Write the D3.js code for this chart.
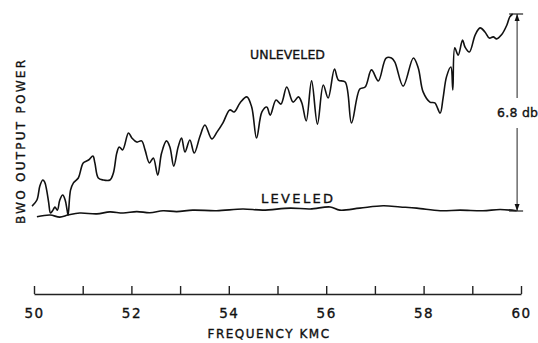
<!DOCTYPE html>
<html lang="en">
<head>
<meta charset="utf-8">
<title>BWO output power</title>
<script src="https://cdn.jsdelivr.net/npm/d3@7"></script>
<style>
  body { margin: 0; background: #fff; }
  text { font-family: "DejaVu Sans", sans-serif; fill: #111; stroke: #111; stroke-width: 0.35px; }
</style>
</head>
<body>
<script>
// unleveled trace (frequency in kmc, relative power in db)
var unlevFreq = [49.96, 50.06, 50.12, 50.18, 50.22, 50.26, 50.30, 50.34, 50.39, 50.43,
  50.48, 50.53, 50.59, 50.64, 50.68, 50.70, 50.75, 50.81, 50.91, 50.97,
  51.01, 51.12, 51.21, 51.25, 51.32, 51.42, 51.56, 51.63, 51.70, 51.75,
  51.82, 51.94, 52.01, 52.11, 52.21, 52.28, 52.37, 52.45, 52.54, 52.62,
  52.72, 52.79, 52.87, 52.96, 53.03, 53.10, 53.20, 53.29, 53.41, 53.51,
  53.65, 53.76, 53.88, 54.02, 54.11, 54.23, 54.37, 54.47, 54.57, 54.68,
  54.78, 54.85, 54.97, 55.07, 55.19, 55.32, 55.43, 55.50, 55.59, 55.70,
  55.82, 55.94, 56.04, 56.17, 56.25, 56.39, 56.52, 56.69, 56.80, 56.93,
  57.07, 57.23, 57.34, 57.41, 57.58, 57.79, 57.89, 57.99, 58.13, 58.23,
  58.34, 58.40, 58.47, 58.56, 58.60, 58.64, 58.71, 58.80, 58.85, 58.94,
  59.06, 59.16, 59.26, 59.35, 59.43, 59.50, 59.60, 59.71, 59.77, 59.83];
var unlevDb = [0.17, 0.38, 0.86, 1.07, 1.00, 0.72, 0.31, -0.07, 0.03, 0.14,
  0.03, 0.38, 0.55, 0.38, 0.03, -0.14, 0.72, 0.97, 1.14, 1.48,
  1.66, 1.76, 1.90, 1.66, 1.14, 1.07, 1.07, 1.31, 2.00, 2.21,
  2.11, 2.69, 2.52, 2.38, 2.42, 2.11, 1.66, 1.83, 1.24, 2.00,
  2.42, 2.21, 1.55, 2.21, 2.52, 2.04, 2.45, 2.00, 2.59, 2.97,
  2.49, 2.73, 3.04, 3.49, 3.42, 3.73, 3.94, 3.59, 2.52, 3.42,
  3.59, 3.31, 3.83, 3.69, 4.28, 3.76, 3.94, 3.73, 3.11, 4.49,
  3.00, 4.35, 3.90, 4.90, 4.52, 4.45, 3.04, 4.21, 4.28, 4.87,
  4.49, 5.28, 5.28, 5.14, 4.31, 5.28, 4.94, 4.11, 3.76, 3.73,
  3.38, 3.90, 4.63, 4.97, 4.18, 5.63, 5.38, 5.90, 5.66, 5.49,
  6.08, 6.32, 6.18, 5.97, 6.01, 5.94, 6.08, 6.42, 6.70, 6.80];

// leveled trace
var levFreq = [50.06, 50.33, 50.53, 50.70, 50.94, 51.29, 51.56, 51.83, 52.11, 52.38,
  52.65, 52.93, 53.26, 53.75, 54.29, 54.70, 55.26, 55.67, 56.08, 56.28,
  56.69, 57.17, 57.52, 57.86, 58.34, 58.75, 59.22, 59.57, 59.91];
var levDb = [-0.20, -0.14, -0.21, -0.14, -0.07, -0.10, -0.03, -0.07, -0.02, -0.06,
  0.01, -0.02, 0.03, 0.01, 0.07, 0.03, 0.10, 0.07, 0.14, 0.03,
  0.10, 0.18, 0.14, 0.10, 0.01, 0.03, 0.01, 0.05, 0.01];

var xTicks = [50, 51, 52, 53, 54, 55, 56, 57, 58, 59, 60];
var xTickLabels = ["50", "", "52", "", "54", "", "56", "", "58", "", "60"];
var spread = 6.8; // db between the two traces at 60 kmc

var w = 538, h = 343;
var svg = d3.select("body").append("svg")
    .attr("width", w)
    .attr("height", h);

var x = d3.scaleLinear().domain([50, 60]).range([34, 521]);
var y = d3.scaleLinear().domain([0, spread]).range([211, 14]);

// x axis, ticks pointing up
var xAxis = d3.axisBottom(x)
    .tickValues(xTicks)
    .tickFormat(function(d, i) { return xTickLabels[i]; })
    .tickSizeInner(-8)
    .tickSizeOuter(0)
    .tickPadding(14);

var gx = svg.append("g")
    .attr("transform", "translate(0,294)")
    .call(xAxis);
gx.select(".domain").attr("stroke", "#222").attr("stroke-width", 1.4);
gx.selectAll(".tick line").attr("stroke", "#222").attr("stroke-width", 1.4);
gx.selectAll(".tick text")
    .attr("font-family", "DejaVu Sans, sans-serif")
    .attr("font-size", "13.5px")
    .attr("letter-spacing", "1.5px")
    .attr("fill", "#111");

var line = d3.line()
    .x(function(d) { return x(d[0]); })
    .y(function(d) { return y(d[1]); })
    .curve(d3.curveCatmullRom.alpha(0.5));

svg.append("path")
    .datum(d3.zip(unlevFreq, unlevDb))
    .attr("fill", "none")
    .attr("stroke", "#111")
    .attr("stroke-width", 1.6)
    .attr("d", line);

svg.append("path")
    .datum(d3.zip(levFreq, levDb))
    .attr("fill", "none")
    .attr("stroke", "#111")
    .attr("stroke-width", 1.6)
    .attr("d", line);

// 6.8 db span marker
var ax = x(59.92);
var yTop = y(spread), yBot = y(0);
svg.append("line").attr("x1", ax).attr("x2", ax).attr("y1", yTop).attr("y2", 98)
    .attr("stroke", "#222").attr("stroke-width", 1);
svg.append("line").attr("x1", ax).attr("x2", ax).attr("y1", 128).attr("y2", yBot)
    .attr("stroke", "#222").attr("stroke-width", 1);
[yTop, yBot].forEach(function(yy) {
  svg.append("line").attr("x1", ax - 8).attr("x2", ax + 6).attr("y1", yy).attr("y2", yy)
      .attr("stroke", "#222").attr("stroke-width", 1.2);
});
svg.append("path")
    .attr("d", "M" + ax + "," + yTop + "l-2.5,7h5z")
    .attr("fill", "#111");
svg.append("path")
    .attr("d", "M" + ax + "," + yBot + "l-2.5,-7h5z")
    .attr("fill", "#111");

svg.append("text")
    .attr("x", 497).attr("y", 117)
    .attr("font-size", "12.5px")
    .attr("textLength", 41).attr("lengthAdjust", "spacing")
    .text("6.8 db");

// labels
svg.append("text")
    .attr("x", 250).attr("y", 59)
    .attr("font-size", "12.5px")
    .attr("textLength", 75).attr("lengthAdjust", "spacing")
    .text("UNLEVELED");

svg.append("text")
    .attr("x", 261).attr("y", 203)
    .attr("font-size", "13px")
    .attr("textLength", 72).attr("lengthAdjust", "spacing")
    .text("LEVELED");

svg.append("text")
    .attr("x", 269).attr("y", 338)
    .attr("text-anchor", "middle")
    .attr("font-size", "12px")
    .attr("letter-spacing", "1.5px")
    .text("FREQUENCY KMC");

svg.append("text")
    .attr("transform", "translate(25,224) rotate(-90)")
    .attr("font-size", "12px")
    .attr("textLength", 164).attr("lengthAdjust", "spacing")
    .text("BWO OUTPUT POWER");
</script>
</body>
</html>
